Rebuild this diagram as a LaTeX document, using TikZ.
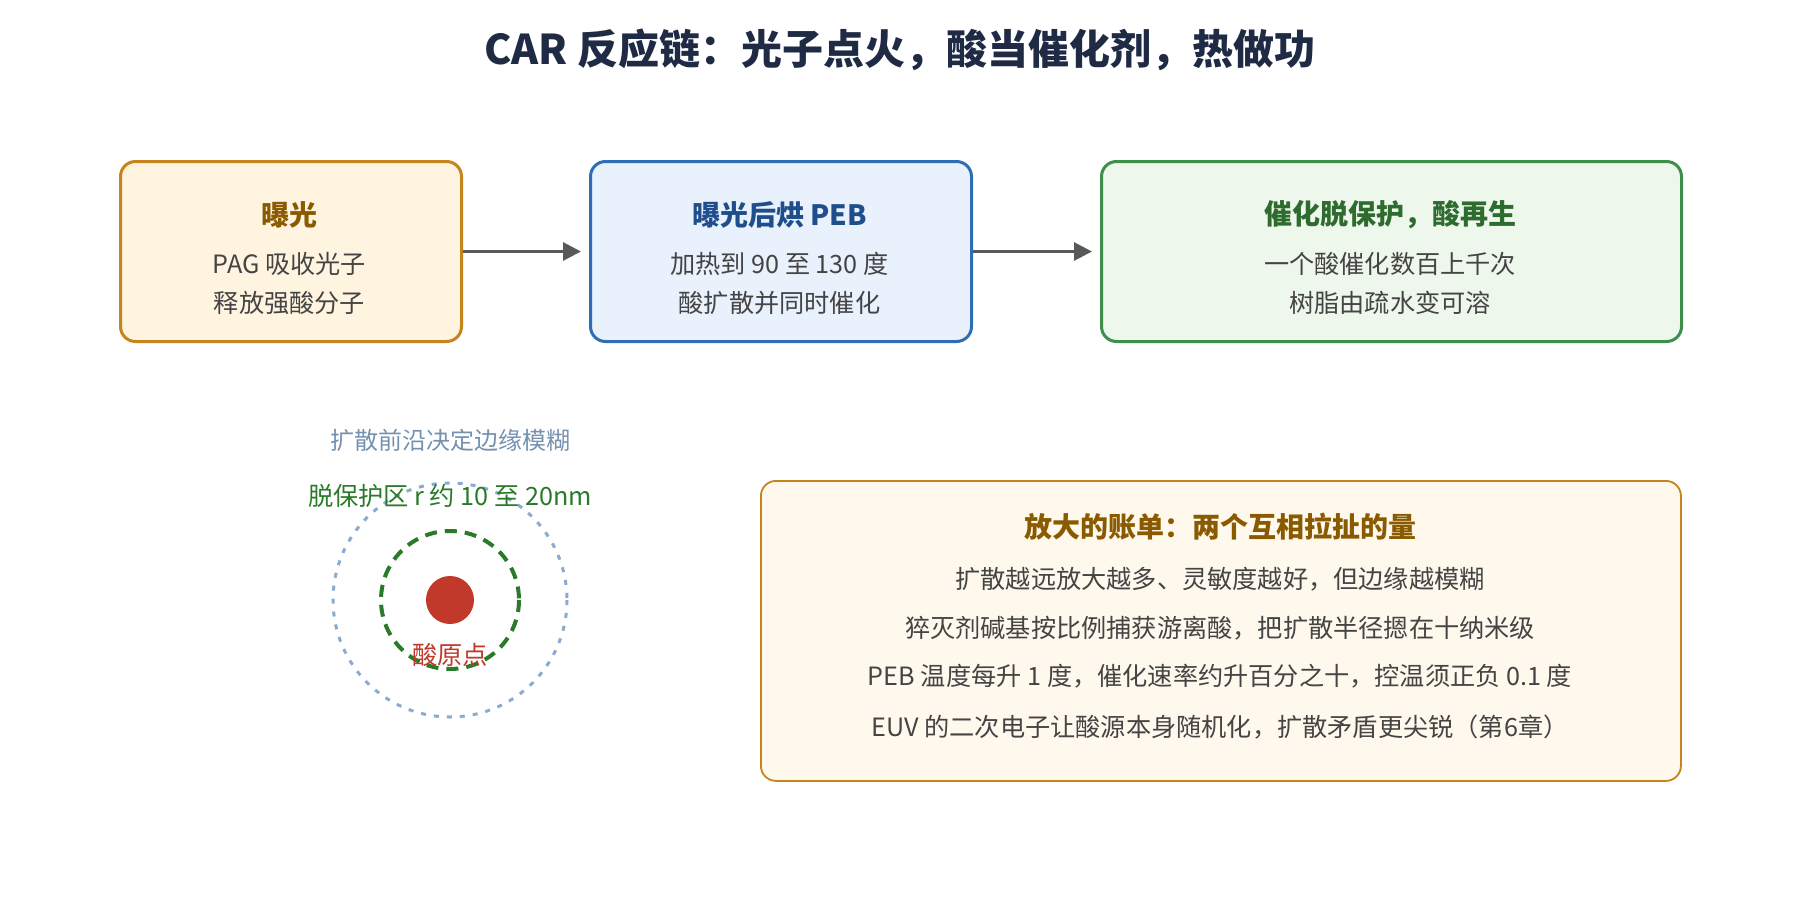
\documentclass[tikz,border=0pt]{standalone}
\usepackage{fontspec}
\setmainfont{Noto Sans CJK SC}
\usepackage{tikz}
\usetikzlibrary{arrows.meta}
\definecolor{navy}{HTML}{1F2A44}
\definecolor{txtgray}{HTML}{444444}
\definecolor{orgline}{HTML}{C8841C}
\definecolor{orgfill}{HTML}{FFF4E0}
\definecolor{orgtext}{HTML}{8A5A00}
\definecolor{bluline}{HTML}{2F6DB5}
\definecolor{blufill}{HTML}{E8F1FC}
\definecolor{blutext}{HTML}{1F4E8C}
\definecolor{grnline}{HTML}{3D8F4A}
\definecolor{grnfill}{HTML}{EEF7EC}
\definecolor{grntext}{HTML}{2E6B2E}
\definecolor{acidred}{HTML}{C0392B}
\definecolor{frontblue}{HTML}{8AABCF}
\tikzset{
    box/.style = {rectangle, rounded corners=7.5pt, line width=1.5pt, inner sep=0pt},
    step_org/.style = {box, draw=orgline, fill=orgfill},
    step_blu/.style = {box, draw=bluline, fill=blufill},
    step_grn/.style = {box, draw=grnline, fill=grnfill},
    head/.style = {font=\fontsize{14}{17}\selectfont\bfseries},
    body/.style = {font=\fontsize{12.6}{15}\selectfont, text=txtgray},
    flow/.style = {-{Triangle[length=9pt,width=9pt]}, line width=1.5pt, draw=black!65}
}
\begin{document}
\begin{tikzpicture}[x=0.5pt, y=-0.5pt]
    \useasboundingbox (0,0) rectangle (1800,900);
    \node (title) [font=\fontsize{20.5}{24}\selectfont\bfseries, text=navy] at (900,50) {CAR 反应链：光子点火，酸当催化剂，热做功};

    % three steps
    \node (expo) [step_org, minimum width=170.5pt, minimum height=90pt, anchor=north west] at (119,160) {};
    \node [head, text=orgtext] at (289.5,215) {曝光};
    \node [body] at (289.5,264) {PAG 吸收光子};
    \node [body] at (289.5,303) {释放强酸分子};

    \node (peb) [step_blu, minimum width=190.5pt, minimum height=90pt, anchor=north west] at (589,160) {};
    \node [head, text=blutext] at (779.5,215) {曝光后烘 PEB};
    \node [body] at (779.5,264) {加热到 90 至 130 度};
    \node [body] at (779.5,303) {酸扩散并同时催化};

    \node (depro) [step_grn, minimum width=290pt, minimum height=90pt, anchor=north west] at (1100,160) {};
    \node [head, text=grntext] at (1390,215) {催化脱保护，酸再生};
    \node [body] at (1390,264) {一个酸催化数百上千次};
    \node [body] at (1390,303) {树脂由疏水变可溶};

    \draw [flow] (expo.east) -- ([xshift=-4pt]peb.west);
    \draw [flow] (peb.east) -- ([xshift=-4pt]depro.west);

    % diffusion sketch
    \node (front) [font=\fontsize{12}{14}\selectfont, text=frontblue!85!black] at (450,440) {扩散前沿决定边缘模糊};
    \node (acid) [circle, fill=acidred, minimum size=24pt, inner sep=0pt] at (450,600) {};
    \draw [frontblue, line width=1.5pt, dash pattern=on 2.5pt off 4pt] (acid.center) circle [radius=117];
    \draw [grntext!90!green, line width=2pt, dash pattern=on 6pt off 4pt] (acid.center) circle [radius=69];
    \node (zone) [font=\fontsize{12.6}{15}\selectfont, text=grntext!90!green] at (450,496) {脱保护区 r 约 10 至 20nm};
    \node (origin) [font=\fontsize{12.6}{15}\selectfont, text=acidred] at (450,655) {酸原点};

    % bill box
    \node (bill) [box, draw=orgline, line width=0.9pt, fill=orgfill!60, minimum width=460pt, minimum height=150pt, anchor=north west] at (760,480) {};
    \node [head, text=orgtext] at (1220,527) {放大的账单：两个互相拉扯的量};
    \node [body] at (1220,579) {扩散越远放大越多、灵敏度越好，但边缘越模糊};
    \node [body] at (1220,628) {猝灭剂碱基按比例捕获游离酸，把扩散半径摁在十纳米级};
    \node [body] at (1220,676) {PEB 温度每升 1 度，催化速率约升百分之十，控温须正负 0.1 度};
    \node [body] at (1220,727) {EUV 的二次电子让酸源本身随机化，扩散矛盾更尖锐（第6章）};
\end{tikzpicture}
\end{document}
